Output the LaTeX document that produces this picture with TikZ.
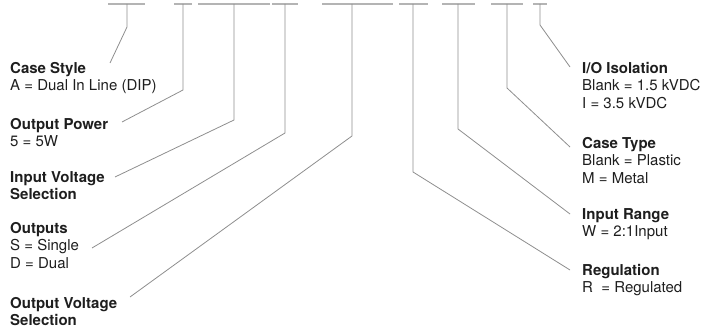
\documentclass[tikz,border=0pt]{standalone}
\usepackage{fontspec}
\setmainfont{TeX Gyre Heros}
\definecolor{leadgray}{HTML}{8E8E8E}
\definecolor{bargray}{HTML}{B4B4B4}
\definecolor{labeltext}{HTML}{1E1E1E}
\tikzset{
  codebar/.style={draw=bargray,line width=1.4pt},
  lead/.style={draw=leadgray,line width=0.8pt},
  field/.style={anchor=north west,inner sep=0pt,align=left,text=labeltext,
    font=\fontsize{15}{17.5}\selectfont},
}
\begin{document}
\begin{tikzpicture}[x=1pt,y=-1pt]
	\useasboundingbox (0,0) rectangle (708,328);
	% blanks of the part number
	\foreach \l/\r in {108/145,174/192,198/270,272/298,322/393,399/428,442/475,491/523,533/547}
		\draw[codebar] (\l,4) -- (\r,4);
	% stems and their bends
	\foreach \x/\y [count=\i] in {127/27,183/90,234/120,285/133,352/136,413/172,458/129,507/88,540/25}
	{
		\coordinate (s\i) at (\x,4);
		\coordinate (k\i) at (\x,\y);
	}
	% left fields
	\node[field] (cstyle) at (10,62) {\textbf{Case Style}\\A = Dual In Line (DIP)};
	\node[field] (opower) at (10,118) {\textbf{Output Power}\\5 = 5W};
	\node[field] (ivolt) at (10,171) {\textbf{Input Voltage}\\\textbf{Selection}};
	\node[field] (outs) at (10,222) {\textbf{Outputs}\\S = Single\\D = Dual};
	\node[field] (ovolt) at (10,297) {\textbf{Output Voltage}\\\textbf{Selection}};
	% right fields
	\node[field] (iso) at (582,62) {\textbf{I/O Isolation}\\Blank = 1.5 kVDC\\I = 3.5 kVDC};
	\node[field] (ctype) at (582,137) {\textbf{Case Type}\\Blank = Plastic\\M = Metal};
	\node[field] (irange) at (582,208) {\textbf{Input Range}\\W = 2:1Input};
	\node[field] (reg) at (582,264) {\textbf{Regulation}\\R \ = Regulated};
	% ends of the leaders
	\coordinate (e1) at (110,63);
	\coordinate (e2) at (122,122);
	\coordinate (e3) at (115,177);
	\coordinate (e4) at (92,248);
	\coordinate (e5) at (130,297);
	\coordinate (e6) at (570,270);
	\coordinate (e7) at (570,214);
	\coordinate (e8) at (570,147);
	\coordinate (e9) at (570,67);
	\foreach \i in {1,...,9}
		\draw[lead] (s\i) -- (k\i) -- (e\i);
\end{tikzpicture}
\end{document}
